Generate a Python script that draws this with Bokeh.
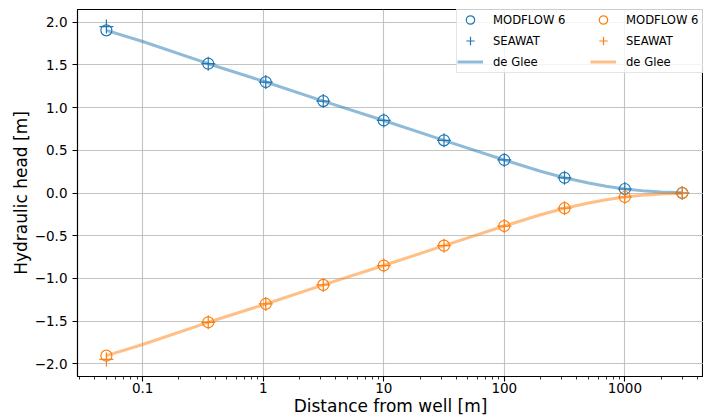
from bokeh.plotting import figure
from bokeh.models import (FixedTicker, CustomJSTickFormatter, Legend, LegendItem, Range1d)
from bokeh.embed import file_html
from bokeh.resources import INLINE

# ---- data ----
x_points = [0.05, 0.35, 1.05, 3.15, 10.0, 31.6, 100.0, 316.0, 1000.0, 3000.0]
mf6_blue = [1.906, 1.515, 1.300, 1.077, 0.850, 0.617, 0.387, 0.178, 0.047, 0.0]
seawat_blue = [1.950, 1.515, 1.300, 1.077, 0.850, 0.617, 0.387, 0.178, 0.047, 0.0]
mf6_orange = [-1.906, -1.515, -1.300, -1.077, -0.850, -0.617, -0.387, -0.178, -0.047, 0.0]
seawat_orange = [-1.950, -1.515, -1.300, -1.077, -0.850, -0.617, -0.387, -0.178, -0.047, 0.0]

deglee_r = [0.05, 0.1, 0.35, 1.05, 3.15, 10.0, 31.6, 100.0, 200.0, 316.0, 500.0, 700.0, 1000.0, 1500.0, 2000.0, 3000.0]
deglee_blue = [1.906, 1.775, 1.515, 1.300, 1.077, 0.850, 0.617, 0.387, 0.255, 0.178, 0.117, 0.078, 0.047, 0.022, 0.012, 0.004]
deglee_orange = [-1.906, -1.775, -1.515, -1.300, -1.077, -0.850, -0.617, -0.387, -0.255, -0.178, -0.117, -0.078, -0.047, -0.022, -0.012, -0.004]

x_ticks = [0.1, 1, 10, 100, 1000]
x_minor = [0.03, 0.04, 0.05, 0.06, 0.07, 0.08, 0.09,
           0.2, 0.3, 0.4, 0.5, 0.6, 0.7, 0.8, 0.9,
           2, 3, 4, 5, 6, 7, 8, 9,
           20, 30, 40, 50, 60, 70, 80, 90,
           200, 300, 400, 500, 600, 700, 800, 900,
           2000, 3000, 4000]
y_ticks = [-2.0, -1.5, -1.0, -0.5, 0.0, 0.5, 1.0, 1.5, 2.0]

C0 = "#1f77b4"
C1 = "#ff7f0e"
FONT = "DejaVu Sans"

p = figure(width=703, height=418, x_axis_type="log",
           x_range=Range1d(0.0288, 4495), y_range=Range1d(-2.15, 2.15),
           output_backend="svg", toolbar_location=None,
           min_border_left=77, min_border_right=0, min_border_top=9, min_border_bottom=41)

p.outline_line_color = "black"
p.outline_line_width = 1.1

# grid
p.grid.grid_line_color = "#b0b0b0"
p.grid.grid_line_alpha = 0.75
p.grid.grid_line_width = 1.1

# axes
p.xaxis.ticker = FixedTicker(ticks=x_ticks, minor_ticks=x_minor)
p.xaxis.formatter = CustomJSTickFormatter(code="return tick < 1 ? tick.toFixed(1) : tick.toFixed(0);")
p.yaxis.ticker = FixedTicker(ticks=y_ticks, minor_ticks=[])
p.yaxis.formatter = CustomJSTickFormatter(code="return tick.toFixed(1).replace('-', '\\u2212');")
p.xaxis.axis_label = "Distance from well [m]"
p.yaxis.axis_label = "Hydraulic head [m]"
for ax in (p.xaxis, p.yaxis):
    ax.axis_label_text_font = FONT
    ax.axis_label_text_font_size = "17px"
    ax.axis_label_text_font_style = "normal"
    ax.axis_label_text_color = "black"
    ax.major_label_text_font = FONT
    ax.major_label_text_font_size = "13.5px"
    ax.major_label_text_color = "black"
    ax.axis_line_color = "black"
    ax.axis_line_width = 1.1
    ax.major_tick_line_color = "black"
    ax.major_tick_line_width = 1.1
    ax.major_tick_out = 5
    ax.major_tick_in = 0
    ax.minor_tick_line_color = "black"
    ax.minor_tick_line_width = 0.8
    ax.minor_tick_out = 3
    ax.minor_tick_in = 0
p.xaxis.major_label_standoff = 1
p.xaxis.axis_label_standoff = 0
p.yaxis.major_label_standoff = 5
p.yaxis.axis_label_standoff = 1
p.yaxis.minor_tick_line_color = None

# lines
dg_b = p.line(deglee_r, deglee_blue, line_color=C0, line_alpha=0.5, line_width=3)
dg_o = p.line(deglee_r, deglee_orange, line_color=C1, line_alpha=0.5, line_width=3)
# markers
mf_b = p.scatter(x_points, mf6_blue, marker="circle", size=11, fill_color=None, line_color=C0, line_width=1.2)
sw_b = p.scatter(x_points, seawat_blue, marker="cross", size=14, line_color=C0, line_width=1.2)
mf_o = p.scatter(x_points, mf6_orange, marker="circle", size=11, fill_color=None, line_color=C1, line_width=1.2)
sw_o = p.scatter(x_points, seawat_orange, marker="cross", size=14, line_color=C1, line_width=1.2)

legend = Legend(items=[
    LegendItem(label="MODFLOW 6", renderers=[mf_b]),
    LegendItem(label="SEAWAT", renderers=[sw_b]),
    LegendItem(label="de Glee", renderers=[dg_b]),
    LegendItem(label="MODFLOW 6", renderers=[mf_o]),
    LegendItem(label="SEAWAT", renderers=[sw_o]),
    LegendItem(label="de Glee", renderers=[dg_o]),
], ncols=2, location=(379, 303))
legend.label_text_font = FONT
legend.label_text_font_size = "11.6px"
legend.label_text_color = "black"
legend.glyph_width = 26
legend.glyph_height = 21
legend.label_height = 21
legend.label_width = 97
legend.label_standoff = 10
legend.spacing = -3
legend.padding = 0
legend.margin = 0
legend.border_line_color = "#cccccc"
legend.border_line_width = 1
legend.background_fill_color = "white"
legend.background_fill_alpha = 0.8
p.add_layout(legend, "center")

open("out.html", "w").write(file_html(p, INLINE))
